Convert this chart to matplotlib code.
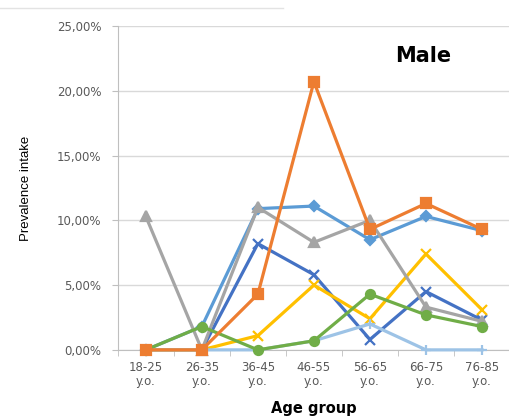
import matplotlib.pyplot as plt
from matplotlib.lines import Line2D
from matplotlib.ticker import FuncFormatter, MultipleLocator
import numpy as np

# age groups and prevalence (%) per series
age_groups = ['18-25\ny.o.', '26-35\ny.o.', '36-45\ny.o.', '46-55\ny.o.',
              '56-65\ny.o.', '66-75\ny.o.', '76-85\ny.o.']
lightblue_vals = [0, 0, 0, 0.7, 2.0, 0, 0]
darkblue_vals = [0, 0, 8.2, 5.8, 0.8, 4.5, 2.3]
yellow_vals = [0, 0, 1.1, 5.0, 2.4, 7.4, 3.1]
green_vals = [0, 1.8, 0, 0.7, 4.3, 2.7, 1.8]
blue_vals = [0, 1.8, 10.9, 11.1, 8.5, 10.3, 9.2]
gray_vals = [10.3, 0, 11.0, 8.3, 10.0, 3.3, 2.2]
orange_vals = [0, 0, 4.3, 20.7, 9.3, 11.3, 9.3]

fig = plt.figure(figsize=(5.1, 4.19), dpi=100)
ax = fig.add_axes([0.231, 0.165, 0.769, 0.773])

x = np.arange(len(age_groups))
series = [
    (blue_vals, '#5B9BD5', 'D', 5.5),
    (darkblue_vals, '#4472C4', 'x', 7),
    (yellow_vals, '#FFC000', 'x', 7),
    (gray_vals, '#A5A5A5', '^', 7.5),
    (lightblue_vals, '#9DC3E6', '+', 7),
    (green_vals, '#70AD47', 'o', 6.5),
    (orange_vals, '#ED7D31', 's', 7),
]
for vals, col, mk, ms in series:
    ax.plot(x, vals, color=col, lw=2.3, marker=mk, ms=ms, mew=1.6,
            mfc=col, mec=col, clip_on=False, zorder=3)

ax.set_xlim(-0.5, len(age_groups) - 0.5)
ax.set_ylim(0, 25)
ax.yaxis.set_major_locator(MultipleLocator(5))
ax.yaxis.set_major_formatter(FuncFormatter(lambda v, p: f'{v:.2f}%'.replace('.', ',')))
ax.set_xticks(x)
ax.set_xticklabels(age_groups, fontsize=8.5, color='#595959', linespacing=1.15)
ax.set_xticks(np.arange(-0.5, len(age_groups), 1), minor=True)
ax.tick_params(axis='x', which='major', length=0, pad=8)
ax.tick_params(axis='x', which='minor', length=4, color='#bfbfbf', direction='out')
ax.tick_params(axis='y', length=4, color='#bfbfbf', labelsize=8.5,
               labelcolor='#595959', pad=8)

ax.grid(axis='y', color='#d9d9d9', lw=1)
ax.set_axisbelow(True)
for s in ['top', 'right']:
    ax.spines[s].set_visible(False)
ax.spines['left'].set_color('#bfbfbf')
ax.spines['bottom'].set_color('#bfbfbf')

ax.set_ylabel('Prevalence intake', fontsize=9.5, family='Liberation Sans',
              labelpad=18)
ax.set_xlabel('Age group', fontsize=10.5, fontweight='bold', labelpad=9)
ax.text(0.778, 0.907, 'Male', transform=ax.transAxes, fontsize=15,
        fontweight='bold', ha='center', va='center')

# faint rule along the top of the image
fig.add_artist(Line2D([0, 0.555], [0.981, 0.981], transform=fig.transFigure,
                      color='#e3e3e3', lw=1))

fig.savefig('out.png', dpi=100)
